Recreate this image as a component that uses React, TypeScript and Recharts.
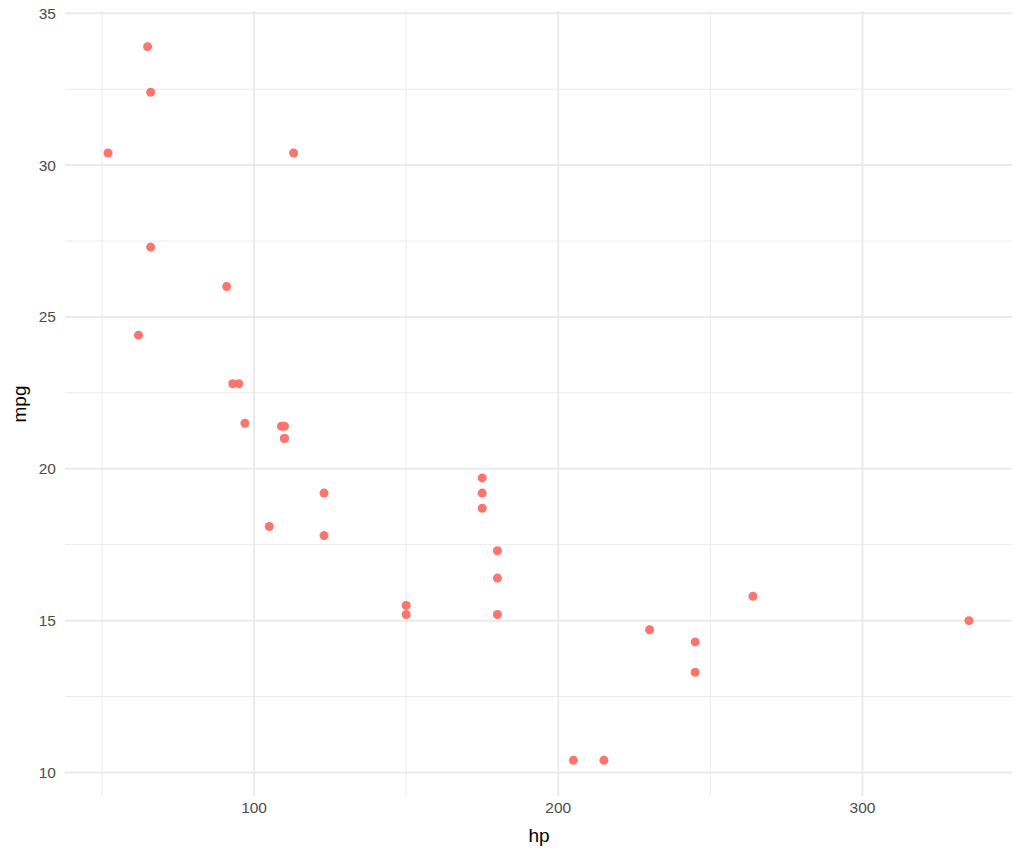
import {
  ScatterChart,
  Scatter,
  XAxis,
  YAxis,
  ReferenceLine,
} from "recharts"

// mtcars: horsepower vs miles per gallon
const hp = [110, 110, 93, 110, 175, 105, 245, 62, 95, 123, 123, 180, 180, 180, 205, 215, 230, 66, 52, 65, 97, 150, 150, 245, 175, 66, 91, 113, 264, 175, 335, 109]
const mpg = [21.0, 21.0, 22.8, 21.4, 18.7, 18.1, 14.3, 24.4, 22.8, 19.2, 17.8, 16.4, 17.3, 15.2, 10.4, 10.4, 14.7, 32.4, 30.4, 33.9, 21.5, 15.5, 15.2, 13.3, 19.2, 27.3, 26.0, 30.4, 15.8, 19.7, 15.0, 21.4]

const xTicks = [100, 200, 300]
const xMinor = [50, 150, 250]
const yTicks = [10, 15, 20, 25, 30, 35]
const yMinor = [12.5, 17.5, 22.5, 27.5, 32.5]

const data = hp.map((h, i) => ({ hp: h, mpg: mpg[i] }))

const GRID = "#ebebeb"
const FONT = "Liberation Sans, Arial, sans-serif"

const XTick = (p: any) => (
  <text x={p.x} y={p.y} dy={12} textAnchor="middle" fill="#4d4d4d" fontSize={15.5} fontFamily={FONT}>
    {p.payload.value}
  </text>
)

const YTick = (p: any) => (
  <text x={p.x} y={p.y} dy={5.5} textAnchor="end" fill="#4d4d4d" fontSize={15.5} fontFamily={FONT}>
    {p.payload.value}
  </text>
)

export default function App() {
  return (
    <div style={{ position: "absolute", left: 0, top: 0, background: "#fff" }}>
      <ScatterChart
        width={1023}
        height={858}
        margin={{ top: 11, right: 11, left: 0, bottom: 0 }}
      >
        {xMinor.map((v) => (
          <ReferenceLine key={`vx-${v}`} x={v} stroke={GRID} strokeWidth={1} />
        ))}
        {yMinor.map((v) => (
          <ReferenceLine key={`hy-${v}`} y={v} stroke={GRID} strokeWidth={1} />
        ))}
        {xTicks.map((v) => (
          <ReferenceLine key={`VX-${v}`} x={v} stroke={GRID} strokeWidth={2} />
        ))}
        {yTicks.map((v) => (
          <ReferenceLine key={`HY-${v}`} y={v} stroke={GRID} strokeWidth={2} />
        ))}
        <XAxis
          type="number"
          dataKey="hp"
          domain={[37.85, 349.15]}
          ticks={xTicks}
          allowDataOverflow
          height={62}
          axisLine={false}
          tickLine={false}
          tickSize={0}
          tickMargin={5}
          tick={<XTick />}
        />
        <YAxis
          type="number"
          dataKey="mpg"
          domain={[9.225, 35.075]}
          ticks={yTicks}
          allowDataOverflow
          width={65}
          axisLine={false}
          tickLine={false}
          tickSize={0}
          tickMargin={9}
          tick={<YTick />}
        />
        <Scatter
          data={data}
          fill="#F8766D"
          isAnimationActive={false}
          shape={(p: any) => <circle cx={p.cx} cy={p.cy} r={4.5} fill="#F8766D" />}
        />
      </ScatterChart>
      <div style={{ position: "absolute", left: 0, top: 825, textAlign: "center", paddingLeft: 66, boxSizing: "border-box", width: 1012, fontFamily: FONT, fontSize: 19, lineHeight: "22px", color: "#000" }}>
        hp
      </div>
      <div style={{ position: "absolute", left: 20, top: 404, transform: "translate(-50%, -50%) rotate(-90deg)", fontFamily: FONT, fontSize: 19, lineHeight: "22px", color: "#000", whiteSpace: "nowrap" }}>
        mpg
      </div>
    </div>
  )
}
